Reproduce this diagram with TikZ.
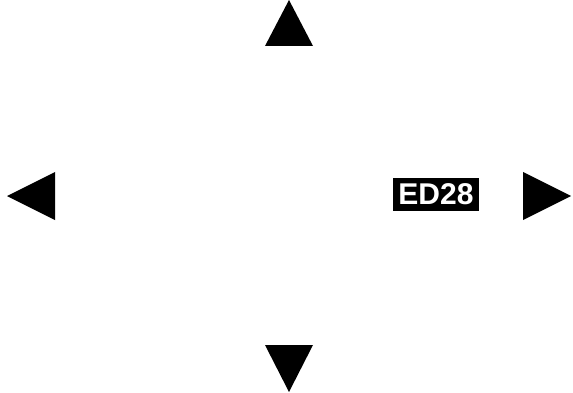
\documentclass[tikz,border=0pt]{standalone}
\usepackage{fontspec}
\setmainfont{Liberation Sans}
\usepackage{tikz}

\begin{document}
\begin{tikzpicture}[x=1pt,y=-1pt]
  \useasboundingbox (0,0) rectangle (573,393);
  \fill[black] (289,0) -- (313,46) -- (265,46) -- cycle;
  \fill[black] (289,392) -- (265,345) -- (313,345) -- cycle;
  \fill[black] (7,196) -- (55,172) -- (55,220) -- cycle;
  \fill[black] (571,196) -- (523,172) -- (523,220) -- cycle;
  \node[fill=black,text=white,font=\bfseries\fontsize{30}{30}\selectfont,
        minimum width=86pt,minimum height=33pt,inner sep=0pt] (tag) at (436,194.5) {ED28};
\end{tikzpicture}
\end{document}
